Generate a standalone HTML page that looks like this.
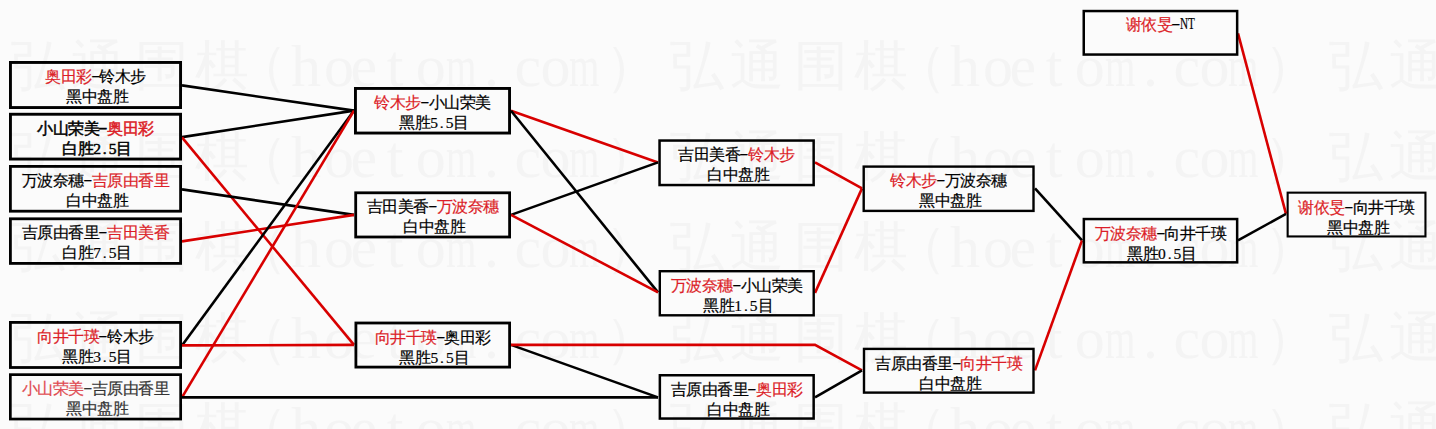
<!DOCTYPE html>
<html><head><meta charset="utf-8"><title>bracket</title>
<style>
html,body{margin:0;padding:0;background:#fbfbfb;}
body{width:1436px;height:429px;overflow:hidden;position:relative;font-family:"Liberation Serif",serif;}
.wm{position:absolute;left:0;width:1436px;height:90px;font-size:60px;line-height:90px;color:#f4f4f4;white-space:nowrap;}
.wm span{position:absolute;top:0;}
.wm .m{transform:scaleX(.65);transform-origin:0 0;}
.wm .c{transform:scale(.9);transform-origin:50% 52%;}
svg{position:absolute;left:0;top:0;}
polyline{fill:none;stroke-width:2.6;}
rect{fill:none;stroke:#000;}
.b{position:absolute;-webkit-text-stroke:.2px currentColor;text-align:center;font-size:15.5px;line-height:20px;color:#000;padding-top:6px;letter-spacing:-0.5px;}
.b p{margin:0;white-space:nowrap;}
.r{color:#dc1e28;}
.lt{color:#333;}
.lt .r{color:#e04a50;}
i{font-style:normal;display:inline-block;width:7.75px;text-align:center;letter-spacing:0;}
.h{transform:translateY(-1.8px) scaleX(1.75);}
.u{transform:translateY(-1.2px) scale(.72,1.08);transform-origin:0 70%;}
.b.bd{-webkit-text-stroke:.5px currentColor;}
.b p+p{padding-left:3px;}
</style></head><body>
<div class="wm" style="top:21.0px"><span class="c" style="left:-57.0px">）</span><span class="c" style="left:8.0px">弘</span><span class="c" style="left:68.0px">通</span><span class="c" style="left:132.0px">围</span><span class="c" style="left:192.0px">棋</span><span class="c" style="left:231.0px">（</span><span style="left:291.0px">h</span><span style="left:324.0px">o</span><span style="left:350.6px">e</span><span style="left:386.8px">t</span><span style="left:415.8px">o</span><span class="m" style="left:446.0px">m</span><span style="left:484.0px">.</span><span style="left:514.5px">c</span><span style="left:540.6px">o</span><span class="m" style="left:569.0px">m</span><span class="c" style="left:602.0px">）</span><span class="c" style="left:667.0px">弘</span><span class="c" style="left:727.0px">通</span><span class="c" style="left:791.0px">围</span><span class="c" style="left:851.0px">棋</span><span class="c" style="left:890.0px">（</span><span style="left:950.0px">h</span><span style="left:983.0px">o</span><span style="left:1009.6px">e</span><span style="left:1045.8px">t</span><span style="left:1074.8px">o</span><span class="m" style="left:1105.0px">m</span><span style="left:1143.0px">.</span><span style="left:1173.5px">c</span><span style="left:1199.6px">o</span><span class="m" style="left:1228.0px">m</span><span class="c" style="left:1261.0px">）</span><span class="c" style="left:1326.0px">弘</span><span class="c" style="left:1386.0px">通</span></div>
<div class="wm" style="top:111.5px"><span class="c" style="left:-57.0px">）</span><span class="c" style="left:8.0px">弘</span><span class="c" style="left:68.0px">通</span><span class="c" style="left:132.0px">围</span><span class="c" style="left:192.0px">棋</span><span class="c" style="left:231.0px">（</span><span style="left:291.0px">h</span><span style="left:324.0px">o</span><span style="left:350.6px">e</span><span style="left:386.8px">t</span><span style="left:415.8px">o</span><span class="m" style="left:446.0px">m</span><span style="left:484.0px">.</span><span style="left:514.5px">c</span><span style="left:540.6px">o</span><span class="m" style="left:569.0px">m</span><span class="c" style="left:602.0px">）</span><span class="c" style="left:667.0px">弘</span><span class="c" style="left:727.0px">通</span><span class="c" style="left:791.0px">围</span><span class="c" style="left:851.0px">棋</span><span class="c" style="left:890.0px">（</span><span style="left:950.0px">h</span><span style="left:983.0px">o</span><span style="left:1009.6px">e</span><span style="left:1045.8px">t</span><span style="left:1074.8px">o</span><span class="m" style="left:1105.0px">m</span><span style="left:1143.0px">.</span><span style="left:1173.5px">c</span><span style="left:1199.6px">o</span><span class="m" style="left:1228.0px">m</span><span class="c" style="left:1261.0px">）</span><span class="c" style="left:1326.0px">弘</span><span class="c" style="left:1386.0px">通</span></div>
<div class="wm" style="top:202.0px"><span class="c" style="left:-57.0px">）</span><span class="c" style="left:8.0px">弘</span><span class="c" style="left:68.0px">通</span><span class="c" style="left:132.0px">围</span><span class="c" style="left:192.0px">棋</span><span class="c" style="left:231.0px">（</span><span style="left:291.0px">h</span><span style="left:324.0px">o</span><span style="left:350.6px">e</span><span style="left:386.8px">t</span><span style="left:415.8px">o</span><span class="m" style="left:446.0px">m</span><span style="left:484.0px">.</span><span style="left:514.5px">c</span><span style="left:540.6px">o</span><span class="m" style="left:569.0px">m</span><span class="c" style="left:602.0px">）</span><span class="c" style="left:667.0px">弘</span><span class="c" style="left:727.0px">通</span><span class="c" style="left:791.0px">围</span><span class="c" style="left:851.0px">棋</span><span class="c" style="left:890.0px">（</span><span style="left:950.0px">h</span><span style="left:983.0px">o</span><span style="left:1009.6px">e</span><span style="left:1045.8px">t</span><span style="left:1074.8px">o</span><span class="m" style="left:1105.0px">m</span><span style="left:1143.0px">.</span><span style="left:1173.5px">c</span><span style="left:1199.6px">o</span><span class="m" style="left:1228.0px">m</span><span class="c" style="left:1261.0px">）</span><span class="c" style="left:1326.0px">弘</span><span class="c" style="left:1386.0px">通</span></div>
<div class="wm" style="top:292.5px"><span class="c" style="left:-57.0px">）</span><span class="c" style="left:8.0px">弘</span><span class="c" style="left:68.0px">通</span><span class="c" style="left:132.0px">围</span><span class="c" style="left:192.0px">棋</span><span class="c" style="left:231.0px">（</span><span style="left:291.0px">h</span><span style="left:324.0px">o</span><span style="left:350.6px">e</span><span style="left:386.8px">t</span><span style="left:415.8px">o</span><span class="m" style="left:446.0px">m</span><span style="left:484.0px">.</span><span style="left:514.5px">c</span><span style="left:540.6px">o</span><span class="m" style="left:569.0px">m</span><span class="c" style="left:602.0px">）</span><span class="c" style="left:667.0px">弘</span><span class="c" style="left:727.0px">通</span><span class="c" style="left:791.0px">围</span><span class="c" style="left:851.0px">棋</span><span class="c" style="left:890.0px">（</span><span style="left:950.0px">h</span><span style="left:983.0px">o</span><span style="left:1009.6px">e</span><span style="left:1045.8px">t</span><span style="left:1074.8px">o</span><span class="m" style="left:1105.0px">m</span><span style="left:1143.0px">.</span><span style="left:1173.5px">c</span><span style="left:1199.6px">o</span><span class="m" style="left:1228.0px">m</span><span class="c" style="left:1261.0px">）</span><span class="c" style="left:1326.0px">弘</span><span class="c" style="left:1386.0px">通</span></div>
<div class="wm" style="top:383.0px"><span class="c" style="left:-57.0px">）</span><span class="c" style="left:8.0px">弘</span><span class="c" style="left:68.0px">通</span><span class="c" style="left:132.0px">围</span><span class="c" style="left:192.0px">棋</span><span class="c" style="left:231.0px">（</span><span style="left:291.0px">h</span><span style="left:324.0px">o</span><span style="left:350.6px">e</span><span style="left:386.8px">t</span><span style="left:415.8px">o</span><span class="m" style="left:446.0px">m</span><span style="left:484.0px">.</span><span style="left:514.5px">c</span><span style="left:540.6px">o</span><span class="m" style="left:569.0px">m</span><span class="c" style="left:602.0px">）</span><span class="c" style="left:667.0px">弘</span><span class="c" style="left:727.0px">通</span><span class="c" style="left:791.0px">围</span><span class="c" style="left:851.0px">棋</span><span class="c" style="left:890.0px">（</span><span style="left:950.0px">h</span><span style="left:983.0px">o</span><span style="left:1009.6px">e</span><span style="left:1045.8px">t</span><span style="left:1074.8px">o</span><span class="m" style="left:1105.0px">m</span><span style="left:1143.0px">.</span><span style="left:1173.5px">c</span><span style="left:1199.6px">o</span><span class="m" style="left:1228.0px">m</span><span class="c" style="left:1261.0px">）</span><span class="c" style="left:1326.0px">弘</span><span class="c" style="left:1386.0px">通</span></div>
<svg width="1436" height="429" viewBox="0 0 1436 429">
<polyline points="182,85.4 354,110.6" stroke="#000"/>
<polyline points="182,137.1 354,110.6" stroke="#000"/>
<polyline points="182,137.4 354,344.9" stroke="#d80000"/>
<polyline points="182,189.4 354,214.9" stroke="#000"/>
<polyline points="182,241.4 354,214.9" stroke="#d80000"/>
<polyline points="182,345.4 354,110.6" stroke="#000"/>
<polyline points="182,345.4 354,344.9" stroke="#d80000"/>
<polyline points="182,397.4 354,110.6" stroke="#d80000"/>
<polyline points="182,397.4 658,397.4" stroke="#000"/>
<polyline points="511,110.8 658,162.4" stroke="#d80000"/>
<polyline points="511,110.8 658,292.4" stroke="#000"/>
<polyline points="511,214.9 658,162.4" stroke="#000"/>
<polyline points="511,214.9 658,292.4" stroke="#d80000"/>
<polyline points="511,344.9 658,397.4" stroke="#000"/>
<polyline points="511,344.9 815,344.9 862,370.4" stroke="#d80000"/>
<polyline points="815,162.4 862,188.4" stroke="#d80000"/>
<polyline points="815,292.9 862,188.4" stroke="#d80000"/>
<polyline points="815,397.4 862,370.4" stroke="#000"/>
<polyline points="1035,188.4 1082,240.4" stroke="#000"/>
<polyline points="1035,370.4 1082,240.4" stroke="#d80000"/>
<polyline points="1238,33.4 1286,213.9" stroke="#d80000"/>
<polyline points="1238,240.4 1286,213.9" stroke="#000"/>
<rect x="10.45" y="62.45" width="170.10" height="45.10" stroke-width="2.9"/>
<rect x="10.45" y="114.25" width="170.10" height="44.80" stroke-width="2.9"/>
<rect x="10.40" y="166.40" width="170.20" height="44.80" stroke-width="2.8"/>
<rect x="10.40" y="218.80" width="170.20" height="44.60" stroke-width="2.8"/>
<rect x="10.40" y="322.40" width="170.20" height="45.10" stroke-width="2.8"/>
<rect x="10.35" y="374.65" width="170.30" height="44.40" stroke-width="2.7"/>
<rect x="355.45" y="88.45" width="154.10" height="44.60" stroke-width="2.9"/>
<rect x="355.70" y="192.80" width="153.90" height="44.20" stroke-width="2.8"/>
<rect x="355.90" y="323.00" width="153.70" height="44.10" stroke-width="2.8"/>
<rect x="659.55" y="140.55" width="154.10" height="44.50" stroke-width="2.5"/>
<rect x="659.80" y="271.20" width="153.90" height="44.10" stroke-width="2.4"/>
<rect x="659.85" y="375.25" width="153.80" height="43.30" stroke-width="2.5"/>
<rect x="863.70" y="166.60" width="169.80" height="44.30" stroke-width="2.4"/>
<rect x="864.00" y="348.90" width="169.50" height="43.70" stroke-width="2.4"/>
<rect x="1083.75" y="11.05" width="153.40" height="43.50" stroke-width="2.5"/>
<rect x="1083.85" y="219.05" width="153.30" height="43.30" stroke-width="2.5"/>
<rect x="1287.65" y="192.65" width="137.80" height="43.80" stroke-width="2.1"/>
</svg>
<div class="b" style="left:9.0px;top:61.0px;width:173.0px"><p><span class="r">奥田彩</span><i class="h">-</i>铃木步</p><p>黑中盘胜</p></div>
<div class="b bd" style="left:9.0px;top:112.8px;width:173.0px"><p>小山荣美<i class="h">-</i><span class="r">奥田彩</span></p><p>白胜<i>2</i><i>.</i><i>5</i>目</p></div>
<div class="b" style="left:9.0px;top:165.0px;width:173.0px"><p>万波奈穗<i class="h">-</i><span class="r">吉原由香里</span></p><p>白中盘胜</p></div>
<div class="b" style="left:9.0px;top:217.4px;width:173.0px"><p>吉原由香里<i class="h">-</i><span class="r">吉田美香</span></p><p>白胜<i>7</i><i>.</i><i>5</i>目</p></div>
<div class="b" style="left:9.0px;top:321.0px;width:173.0px"><p><span class="r">向井千瑛</span><i class="h">-</i>铃木步</p><p>黑胜<i>3</i><i>.</i><i>5</i>目</p></div>
<div class="b lt" style="left:9.0px;top:373.3px;width:173.0px"><p><span class="r">小山荣美</span><i class="h">-</i>吉原由香里</p><p>黑中盘胜</p></div>
<div class="b" style="left:354.0px;top:87.0px;width:157.0px"><p><span class="r">铃木步</span><i class="h">-</i>小山荣美</p><p>黑胜<i>5</i><i>.</i><i>5</i>目</p></div>
<div class="b" style="left:354.3px;top:191.4px;width:156.7px"><p>吉田美香<i class="h">-</i><span class="r">万波奈穗</span></p><p>白中盘胜</p></div>
<div class="b" style="left:354.5px;top:321.6px;width:156.5px"><p><span class="r">向井千瑛</span><i class="h">-</i>奥田彩</p><p>黑胜<i>5</i><i>.</i><i>5</i>目</p></div>
<div class="b" style="left:658.3px;top:139.3px;width:156.6px"><p>吉田美香<i class="h">-</i><span class="r">铃木步</span></p><p>白中盘胜</p></div>
<div class="b" style="left:658.6px;top:270.0px;width:156.3px"><p><span class="r">万波奈穗</span><i class="h">-</i>小山荣美</p><p>黑胜<i>1</i><i>.</i><i>5</i>目</p></div>
<div class="b" style="left:658.6px;top:374.0px;width:156.3px"><p>吉原由香里<i class="h">-</i><span class="r">奥田彩</span></p><p>白中盘胜</p></div>
<div class="b" style="left:862.5px;top:165.4px;width:172.2px"><p><span class="r">铃木步</span><i class="h">-</i>万波奈穗</p><p>黑中盘胜</p></div>
<div class="b" style="left:862.8px;top:347.7px;width:171.9px"><p>吉原由香里<i class="h">-</i><span class="r">向井千瑛</span></p><p>白中盘胜</p></div>
<div class="b" style="left:1082.5px;top:9.8px;width:155.9px;padding-top:5.2px"><p><span class="r">谢依旻</span><i class="h">-</i><i class="u">N</i><i class="u">T</i></p><p></p></div>
<div class="b" style="left:1082.6px;top:217.8px;width:155.8px"><p><span class="r">万波奈穗</span><i class="h">-</i>向井千瑛</p><p>黑胜<i>0</i><i>.</i><i>5</i>目</p></div>
<div class="b" style="left:1286.6px;top:191.6px;width:139.9px"><p><span class="r">谢依旻</span><i class="h">-</i>向井千瑛</p><p>黑中盘胜</p></div>
</body></html>
